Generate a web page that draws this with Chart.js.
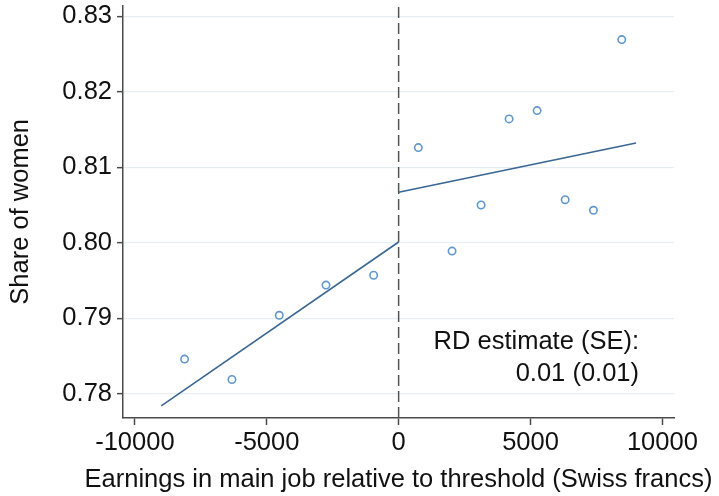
<!DOCTYPE html>
<html>
<head>
<meta charset="utf-8">
<script src="https://cdn.jsdelivr.net/npm/chart.js@4/dist/chart.umd.min.js"></script>
<style>
html,body{margin:0;padding:0;background:#fff;}
canvas{display:block;}
</style>
</head>
<body>
<canvas id="c" width="719" height="496"></canvas>
<script>
// Binned means (earnings relative to threshold, share of women)
const binX = [-8115, -6320, -4526, -2754, -948, 747, 2026, 3126, 4188, 5250, 6313, 7386, 8460];
const binY = [0.7846, 0.7819, 0.7904, 0.7944, 0.7957, 0.8126, 0.7989, 0.8050, 0.8164, 0.8175, 0.8057, 0.8043, 0.8269];
// Fitted lines on each side of the threshold
const fitLeftX = [-9000, 0];
const fitLeftY = [0.7784, 0.8001];
const fitRightX = [0, 9000];
const fitRightY = [0.8067, 0.8132];
const threshold = 0;
// Axes
const xTicks = [-10000, -5000, 0, 5000, 10000];
const yTicks = [0.78, 0.79, 0.80, 0.81, 0.82, 0.83];
const xRange = [-10450, 10440];
const yRange = [0.7768, 0.8314];
const xTitle = 'Earnings in main job relative to threshold (Swiss francs)';
const yTitle = 'Share of women';
const noteLines = ['RD estimate (SE):', '0.01 (0.01)'];

const FONT = 'Liberation Sans, Arial, Helvetica, sans-serif';
const FS = 25.5;
const axisColor = '#4a4a4a';

const pts = (xs, ys) => xs.map((x, i) => ({x: x, y: ys[i]}));

const textPlugin = {
  id: 'texts',
  afterDraw(chart) {
    const ctx = chart.ctx;
    const a = chart.chartArea;
    ctx.save();
    ctx.font = FS + 'px ' + FONT;
    ctx.fillStyle = '#111';
    ctx.textBaseline = 'middle';
    ctx.textAlign = 'right';
    ctx.fillText(noteLines[0], a.right - 35, 342);
    ctx.fillText(noteLines[1], a.right - 35, 374);
    ctx.textAlign = 'center';
    ctx.fillText(xTitle, (a.left + a.right) / 2, chart.height - 16);
    ctx.restore();
  }
};

new Chart(document.getElementById('c'), {
  type: 'scatter',
  data: {
    datasets: [
      {
        data: pts(binX, binY),
        showLine: false,
        pointStyle: 'circle',
        pointRadius: 3.7,
        pointBorderWidth: 1.6,
        pointBorderColor: '#6197cd',
        pointBackgroundColor: 'rgba(255,255,255,0)',
        order: 1
      },
      {
        data: pts(fitLeftX, fitLeftY),
        showLine: true,
        borderColor: '#3a6691',
        borderWidth: 1.6,
        pointRadius: 0,
        order: 2
      },
      {
        data: pts(fitRightX, fitRightY),
        showLine: true,
        borderColor: '#3a6691',
        borderWidth: 1.6,
        pointRadius: 0,
        order: 2
      },
      {
        data: [{x: threshold, y: yRange[0]}, {x: threshold, y: yRange[1]}],
        showLine: true,
        borderColor: '#555',
        borderWidth: 1.5,
        borderDash: [11, 5],
        pointRadius: 0,
        order: 3
      }
    ]
  },
  options: {
    responsive: false,
    animation: false,
    devicePixelRatio: 1,
    layout: {padding: {top: 5, left: 0, right: 0, bottom: 0}},
    plugins: {legend: {display: false}, tooltip: {enabled: false}},
    scales: {
      x: {
        type: 'linear',
        position: 'bottom',
        min: xRange[0],
        max: xRange[1],
        afterBuildTicks(s) { s.ticks = xTicks.map(v => ({value: v})); },
        afterFit(s) { s.height = 78; s.paddingLeft = 0; s.paddingRight = 0; },
        grid: {drawOnChartArea: false, drawTicks: true, tickLength: 7, tickColor: axisColor, tickWidth: 1.5},
        border: {display: true, color: axisColor, width: 1.5},
        ticks: {
          font: {family: FONT, size: FS},
          color: '#111',
          padding: 3,
          maxRotation: 0,
          autoSkip: false,
          callback: v => String(v)
        },
        title: {display: false}
      },
      y: {
        type: 'linear',
        position: 'left',
        min: yRange[0],
        max: yRange[1],
        afterBuildTicks(s) { s.ticks = yTicks.map(v => ({value: v})); },
        afterFit(s) { s.width = 123; s.paddingTop = 0; s.paddingBottom = 0; },
        grid: {drawOnChartArea: true, color: '#e6eef1', lineWidth: 1.3, drawTicks: true, tickLength: 6, tickColor: axisColor, tickWidth: 1.5},
        border: {display: true, color: axisColor, width: 1.5},
        ticks: {
          font: {family: FONT, size: FS},
          color: '#111',
          padding: 5,
          autoSkip: false,
          callback: v => v.toFixed(2)
        },
        title: {
          display: true,
          text: yTitle,
          font: {family: FONT, size: FS, lineHeight: 1.2},
          color: '#111',
          padding: {top: 6, bottom: 0}
        }
      },
      yr: {
        type: 'linear',
        position: 'right',
        display: true,
        afterFit(s) { s.width = 45; s.paddingTop = 0; s.paddingBottom = 0; },
        grid: {display: false, drawTicks: false},
        border: {display: false},
        ticks: {display: false}
      }
    }
  },
  plugins: [textPlugin]
});
</script>
</body>
</html>
